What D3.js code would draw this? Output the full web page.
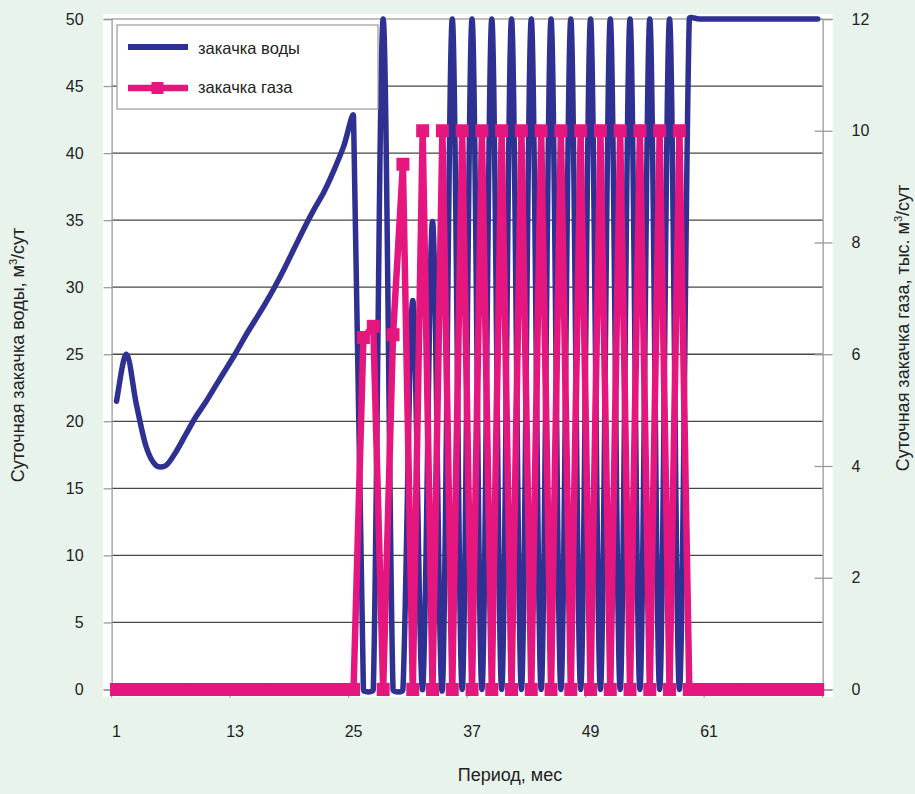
<!DOCTYPE html>
<html><head><meta charset="utf-8">
<script src="https://cdn.jsdelivr.net/npm/d3@7"></script>
<style>
html,body{margin:0;padding:0;background:#e8f3ec;}
svg{display:block;font-family:"Liberation Sans",Arial,sans-serif;}
</style></head>
<body>
<svg id="chart" width="915" height="794"></svg>
<script>
// ---- data ----
const months = [1,2,3,4,5,6,7,8,9,10,11,12,13,14,15,16,17,18,19,20,21,22,23,24,25,26,27,28,29,30,31,32,33,34,35,36,
  37,38,39,40,41,42,43,44,45,46,47,48,49,50,51,52,53,54,55,56,57,58,59,60,61,62,63,64,65,66,67,68,69,70,71,72];
const waterInjection = [21.5,25.0,21.3,18.1,16.7,16.7,17.7,19.0,20.3,21.4,22.6,23.8,25.0,26.3,27.5,28.7,30.0,31.4,32.9,34.4,35.8,37.1,38.7,40.5,
  42.7,0,0,50,0,0,29,0,34.9,0,50,0,50,0,50,0,50,0,50,0,50,0,50,0,50,0,50,0,50,0,50,0,50,0,50,
  50,50,50,50,50,50,50,50,50,50,50,50,50];
const gasInjection = [0,0,0,0,0,0,0,0,0,0,0,0,0,0,0,0,0,0,0,0,0,0,0,0,
  0,6.3,6.5,0,6.35,9.4,0,10,0,10,0,10,0,10,0,10,0,10,0,10,0,10,0,10,0,10,0,10,0,10,0,10,0,10,0,
  0,0,0,0,0,0,0,0,0,0,0,0,0];
const xTickLabels = [1,13,25,37,49,61];
const leftTicks = [0,5,10,15,20,25,30,35,40,45,50];
const rightTicks = [0,2,4,6,8,10,12];
const seriesNames = ["закачка воды","закачка газа"];
const xTitle = "Период, мес";

// ---- smoothed-line curve (Catmull-Rom handles, limited by segment length, like spreadsheet smoothing) ----
function smoothLimited(context){
  let pts = [];
  return {
    areaStart(){}, areaEnd(){},
    lineStart(){ pts = []; },
    point(x,y){ pts.push([+x,+y]); },
    lineEnd(){
      const n = pts.length;
      if(!n) return;
      context.moveTo(pts[0][0], pts[0][1]);
      for(let i=0;i<n-1;i++){
        const p0 = pts[Math.max(i-1,0)], p1 = pts[i], p2 = pts[i+1], p3 = pts[Math.min(i+2,n-1)];
        let t1 = [(p2[0]-p0[0])/6, (p2[1]-p0[1])/6];
        let t2 = [(p3[0]-p1[0])/6, (p3[1]-p1[1])/6];
        const lim = Math.hypot(p2[0]-p1[0], p2[1]-p1[1]) / 3;
        const l1 = Math.hypot(t1[0],t1[1]), l2 = Math.hypot(t2[0],t2[1]);
        if(l1>lim && l1>0){ t1 = [t1[0]*lim/l1, t1[1]*lim/l1]; }
        if(l2>lim && l2>0){ t2 = [t2[0]*lim/l2, t2[1]*lim/l2]; }
        context.bezierCurveTo(p1[0]+t1[0], p1[1]+t1[1], p2[0]-t2[0], p2[1]-t2[1], p2[0], p2[1]);
      }
    }
  };
}

// ---- layout ----
const svg = d3.select("#chart");
const L = 111.6, R = 822.6, T = 19, B = 689.5;
const blue = "#2e3192", pink = "#e5177e";
const axisGray = "#9a9a9a";

svg.append("rect").attr("width",915).attr("height",794).attr("fill","#e8f3ec");
svg.append("rect").attr("x",103).attr("y",14).attr("width",730).attr("height",683).attr("fill","#ffffff");

const x = d3.scaleBand().domain(months).range([L,R]).padding(0);
const cx = m => x(m) + x.bandwidth()/2;
const yL = d3.scaleLinear().domain([0,50]).range([B,T]);
const yR = d3.scaleLinear().domain([0,12]).range([B,T]);

// gridlines
svg.append("g").selectAll("line").data(leftTicks.filter(d=>d>0 && d<50)).join("line")
  .attr("x1",L).attr("x2",R).attr("y1",d=>yL(d)).attr("y2",d=>yL(d))
  .attr("stroke","#474747").attr("stroke-width",1.3);
// top border
svg.append("line").attr("x1",L).attr("x2",R).attr("y1",yL(50)).attr("y2",yL(50)).attr("stroke","#aaa").attr("stroke-width",1.3);

// left axis
const gL = svg.append("g").attr("transform",`translate(${L},0)`)
  .call(d3.axisLeft(yL).tickValues(leftTicks).tickSize(8).tickPadding(20));
gL.selectAll("path,line").attr("stroke",axisGray).attr("stroke-width",1.3);
gL.selectAll("text").attr("font-size",16).attr("fill","#222").attr("font-family","Liberation Sans, Arial, sans-serif");

// right axis
const gR = svg.append("g").attr("transform",`translate(${R},0)`)
  .call(d3.axisRight(yR).tickValues(rightTicks).tickSize(10).tickPadding(19));
gR.selectAll("path").attr("stroke",axisGray).attr("stroke-width",1.3);
gR.selectAll("line").attr("x1",-8).attr("stroke",axisGray).attr("stroke-width",1.3);
gR.selectAll("text").attr("font-size",16).attr("fill","#222").attr("font-family","Liberation Sans, Arial, sans-serif");

// bottom axis: labels centered on categories, tick marks at category boundaries
const gB = svg.append("g").attr("transform",`translate(0,${B})`)
  .call(d3.axisBottom(x).tickValues(xTickLabels).tickSize(0).tickPadding(36));
gB.select("path").remove();
gB.selectAll("text").attr("font-size",16).attr("fill","#222").attr("font-family","Liberation Sans, Arial, sans-serif");
svg.append("g").selectAll("line").data(xTickLabels.map(m=>x(m)).concat([R])).join("line")
  .attr("x1",d=>d).attr("x2",d=>d).attr("y1",B).attr("y2",B+8)
  .attr("stroke",axisGray).attr("stroke-width",1.3);

// clip
svg.append("clipPath").attr("id","plotclip").append("rect").attr("x",103).attr("y",14).attr("width",730).attr("height",683);
const plot = svg.append("g").attr("clip-path","url(#plotclip)");

// water series (smoothed)
const waterLine = d3.line().x((d,i)=>cx(months[i])).y(d=>yL(d)).curve(smoothLimited);
plot.append("path").datum(waterInjection).attr("d",waterLine)
  .attr("fill","none").attr("stroke",blue).attr("stroke-width",5.5).attr("stroke-linejoin","round").attr("stroke-linecap","round");

// gas series with square markers (secondary axis)
const gasLine = d3.line().x((d,i)=>cx(months[i])).y(d=>yR(d));
plot.append("path").datum(gasInjection).attr("d",gasLine)
  .attr("fill","none").attr("stroke",pink).attr("stroke-width",6.5).attr("stroke-linejoin","round");
const ms = 13;
plot.append("g").selectAll("rect").data(gasInjection).join("rect")
  .attr("x",(d,i)=>cx(months[i])-ms/2).attr("y",d=>yR(d)-ms/2)
  .attr("width",ms).attr("height",ms).attr("fill",pink);

// legend
const lg = svg.append("g");
lg.append("rect").attr("x",117).attr("y",25).attr("width",261).attr("height",84)
  .attr("fill","#fff").attr("stroke","#999").attr("stroke-width",1.2);
lg.append("line").attr("x1",128).attr("x2",188).attr("y1",47).attr("y2",47).attr("stroke",blue).attr("stroke-width",6);
lg.append("line").attr("x1",128).attr("x2",188).attr("y1",88).attr("y2",88).attr("stroke",pink).attr("stroke-width",6.5);
lg.append("rect").attr("x",151.5).attr("y",82).attr("width",12).attr("height",12).attr("fill",pink);
lg.append("text").attr("x",198).attr("y",54).attr("font-size",16.5).attr("fill","#222").text(seriesNames[0]);
lg.append("text").attr("x",198).attr("y",93).attr("font-size",16.5).attr("fill","#222").text(seriesNames[1]);

// axis titles
svg.append("text").attr("x",510).attr("y",781).attr("text-anchor","middle").attr("font-size",18).attr("fill","#222").text(xTitle);

function rotTitle(xc, yc, parts){
  const t = svg.append("text").attr("transform",`translate(${xc},${yc}) rotate(-90)`)
    .attr("text-anchor","middle").attr("font-size",18).attr("fill","#222");
  t.append("tspan").text(parts[0]);
  t.append("tspan").attr("dy",-7).attr("font-size",11).text("3");
  t.append("tspan").attr("dy",7).text(parts[1]);
}
rotTitle(24, 355, ["Суточная закачка воды, м","/сут"]);
rotTitle(909, 328, ["Суточная закачка газа, тыс. м","/сут"]);
</script>
</body></html>
